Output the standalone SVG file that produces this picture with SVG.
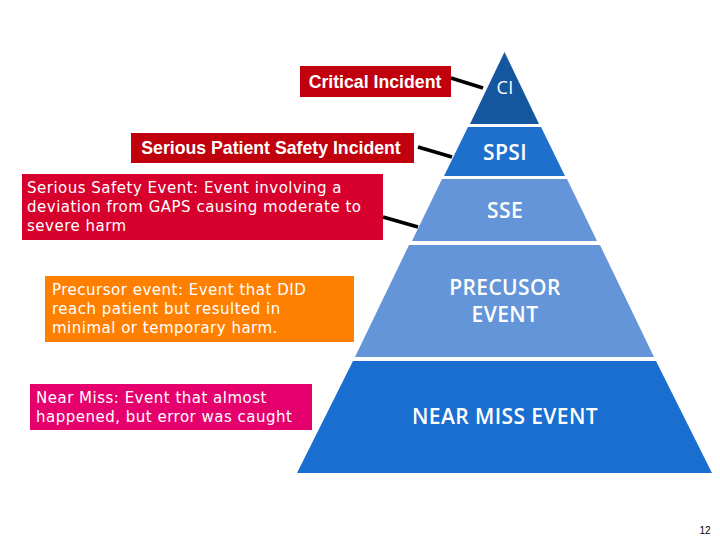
<svg xmlns="http://www.w3.org/2000/svg" width="720" height="540" viewBox="0 0 720 540">
<style>
.lvl{font-family:"Open Sans","Noto Sans",sans-serif;font-weight:600;font-size:21px;letter-spacing:0.4px;fill:#ffffff;text-anchor:middle}
.hd{font-family:"Liberation Sans",Arial,sans-serif;font-weight:bold;font-size:17.7px;fill:#ffffff;text-anchor:middle}
.desc{font-family:"DejaVu Sans",Verdana,sans-serif;font-size:15px;letter-spacing:0.5px;fill:#ffffff}
.con{stroke:#000000;stroke-width:3.5;fill:none}
</style>
<rect width="720" height="540" fill="#ffffff"/>
<g id="pyramid">
<g id="ci"><polygon points="504.5,52 539,124 470,124" fill="#15579f"/><text class="lvl" x="505" y="94" style="font-size:18px;font-weight:400" fill="#e6e6e6">CI</text></g>
<g id="spsi"><polygon points="468,127 541,127 565,176 444,176" fill="#1f6fcc"/><text class="lvl" x="505" y="160">SPSI</text></g>
<g id="sse"><polygon points="442,179 567,179 597,241 412,241" fill="#6595d9"/><text class="lvl" x="505" y="218">SSE</text></g>
<g id="precursor"><polygon points="409,245 600,245 654,357 355,357" fill="#6595d9"/><text class="lvl" x="505" y="295">PRECUSOR</text><text class="lvl" x="505" y="322">EVENT</text></g>
<g id="nearmiss"><polygon points="353,361 656,361 712,473 297,473" fill="#1a6ecf"/><text class="lvl" x="505" y="424">NEAR MISS EVENT</text></g>
</g>
<g id="labels">
<g id="lbl-ci"><rect x="300" y="66" width="151" height="31" fill="#c0000c"/><text class="hd" x="375" y="88">Critical Incident</text></g>
<g id="lbl-spsi"><rect x="131" y="133" width="283" height="30" fill="#c0000c"/><text class="hd" x="271" y="154">Serious Patient Safety Incident</text></g>
<g id="lbl-sse"><rect x="22" y="174" width="361" height="66" fill="#d7002c"/><text class="desc" x="27" y="193">Serious Safety Event: Event involving a</text><text class="desc" x="27" y="212">deviation from GAPS causing moderate to</text><text class="desc" x="27" y="231">severe harm</text></g>
<g id="lbl-precursor"><rect x="45" y="276" width="309" height="66" fill="#ff8000"/><text class="desc" x="52" y="295">Precursor event: Event that DID</text><text class="desc" x="52" y="314">reach patient but resulted in</text><text class="desc" x="52" y="333">minimal or temporary harm.</text></g>
<g id="lbl-nearmiss"><rect x="30" y="384" width="282" height="46" fill="#e5006e"/><text class="desc" x="36" y="403">Near Miss: Event that almost</text><text class="desc" x="36" y="422">happened, but error was caught</text></g>
</g>
<g id="connectors">
<line class="con" x1="451" y1="78" x2="483" y2="88"/>
<line class="con" x1="418" y1="147" x2="452" y2="157"/>
<line class="con" x1="383" y1="217" x2="418" y2="227"/>
</g>
<text x="705" y="534" font-family="Liberation Sans,Arial,sans-serif" font-size="10" fill="#000000" text-anchor="middle">12</text>
</svg>
